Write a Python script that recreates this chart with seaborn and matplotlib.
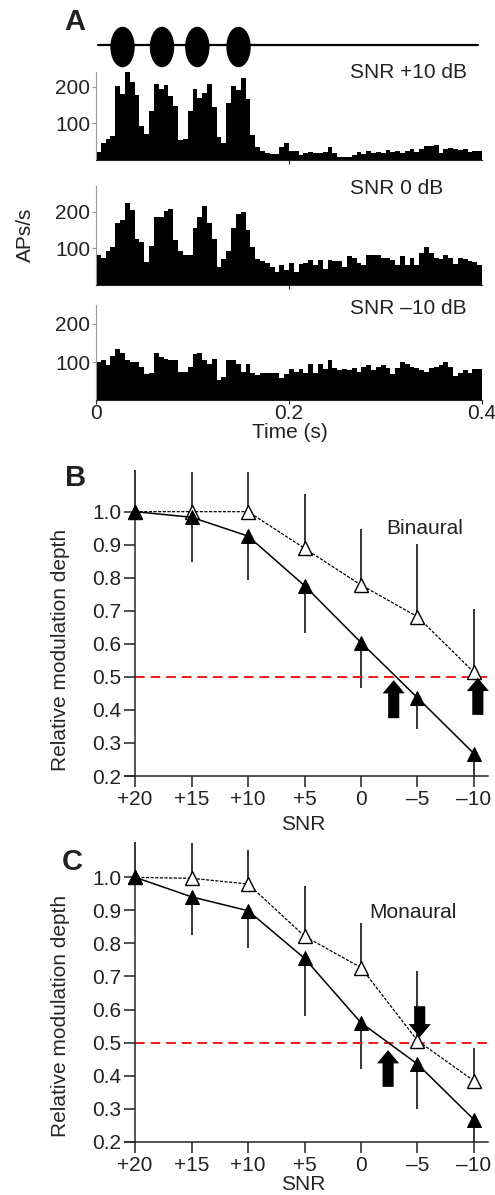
import numpy as np
import pandas as pd
import matplotlib
matplotlib.use('Agg')
import matplotlib.pyplot as plt
from matplotlib.patches import Ellipse
import seaborn as sns

# --- panel A: PSTHs, 5 ms bins from 0 to 0.4 s ---
bin_width = 0.005
rate_p10 = [23, 47, 58, 65, 204, 180, 242, 214, 177, 93, 72, 134, 208, 195, 206, 174, 148, 54, 58, 134,
            194, 171, 183, 208, 146, 63, 47, 155, 204, 193, 225, 168, 68, 35, 26, 19, 17, 17, 35, 47,
            25, 25, 13, 20, 22, 19, 20, 22, 35, 19, 9, 9, 9, 13, 22, 16, 25, 19, 22, 19,
            28, 22, 25, 19, 25, 30, 22, 30, 37, 39, 41, 19, 31, 34, 29, 28, 30, 22, 25, 25]
rate_0 = [82, 73, 94, 105, 168, 177, 223, 205, 125, 118, 64, 107, 185, 186, 203, 207, 123, 94, 82, 82,
          156, 186, 215, 168, 125, 50, 70, 94, 156, 195, 198, 150, 103, 70, 65, 61, 50, 36, 55, 41,
          59, 36, 57, 61, 68, 55, 68, 45, 68, 66, 66, 48, 79, 75, 61, 55, 82, 82, 82, 75,
          75, 68, 55, 79, 55, 73, 55, 88, 105, 86, 73, 70, 82, 73, 57, 73, 70, 66, 62, 55]
rate_m10 = [100, 105, 91, 116, 134, 125, 105, 100, 100, 86, 68, 71, 125, 114, 109, 105, 105, 75, 75, 86,
            121, 125, 105, 95, 109, 52, 61, 106, 106, 95, 75, 95, 71, 66, 71, 71, 71, 71, 59, 68,
            82, 75, 82, 71, 94, 71, 95, 82, 105, 85, 79, 82, 79, 85, 75, 86, 91, 79, 88, 91,
            85, 68, 85, 100, 95, 88, 85, 79, 75, 85, 88, 91, 100, 88, 64, 70, 79, 70, 82, 82]
psth_labels = ['SNR +10 dB', 'SNR 0 dB', 'SNR \u201310 dB']
burst_centers = [0.0275, 0.0684, 0.105, 0.1477]
burst_width = 0.0238

# --- panels B and C: relative modulation depth ---
snr = [20, 15, 10, 5, 0, -5, -10]
snr_labels = ['+20', '+15', '+10', '+5', '0', '\u20135', '\u201310']
bin_open = [1.0, 1.0, 1.0, 0.889, 0.778, 0.682, 0.514]
bin_open_err = [0.126, 0.121, 0.121, 0.163, 0.169, 0.219, 0.191]
bin_filled = [1.0, 0.983, 0.926, 0.776, 0.604, 0.437, 0.268]
bin_filled_err = [0.0, 0.134, 0.133, 0.142, 0.139, 0.094, 0.07]
mon_open = [1.0, 0.997, 0.98, 0.822, 0.727, 0.506, 0.384]
mon_open_err = [0.108, 0.106, 0.103, 0.152, 0.134, 0.211, 0.1]
mon_filled = [1.0, 0.941, 0.899, 0.755, 0.56, 0.435, 0.267]
mon_filled_err = [0.0, 0.116, 0.112, 0.175, 0.141, 0.135, 0.067]
# arrows: (snr position, tail, head)
bin_arrows = [(-2.9, 0.375, 0.49), (-10.35, 0.385, 0.497)]
mon_arrows = [(-5.2, 0.61, 0.516), (-2.4, 0.366, 0.477)]

sns.set_style('ticks')
plt.rcParams['font.family'] = ['Liberation Sans', 'DejaVu Sans']
plt.rcParams['text.color'] = '#222222'
plt.rcParams['xtick.color'] = '#222222'
plt.rcParams['ytick.color'] = '#222222'

W, H = 495, 1195
fig = plt.figure(figsize=(W / 100, H / 100), dpi=100)


def px_axes(left, top, right, bottom):
    a = fig.add_axes([left / W, 1 - bottom / H, (right - left) / W, (bottom - top) / H])
    a.patch.set_alpha(0)
    return a


# stimulus row
ax_s = px_axes(96, 26, 482, 68)
ax_s.plot([0.002, 0.396], [0.1, 0.1], color='black', lw=1.6)
for c in burst_centers:
    ax_s.add_patch(Ellipse((c, 0), burst_width, 1.86, color='black'))
ax_s.set_xlim(0, 0.4)
ax_s.set_ylim(-1, 1)
ax_s.axis('off')

n_bins = len(rate_p10)
centers = (np.arange(n_bins) + 0.5) * bin_width
psth_boxes = [(72, 160, 241), (186, 285, 270), (305, 400, 250)]
psth_text_y = [72, 188, 309]
for i, (rates, (top, bottom, ymax)) in enumerate(zip([rate_p10, rate_0, rate_m10], psth_boxes)):
    ax = px_axes(96, top, 482, bottom)
    df = pd.DataFrame({'t': centers, 'rate': rates})
    sns.histplot(data=df, x='t', weights='rate', bins=n_bins, binrange=(0, n_bins * bin_width),
                 element='step', fill=True, color='black', alpha=1, linewidth=0, ax=ax)
    ax.set_xlim(0, 0.4)
    ax.set_ylim(0, ymax)
    ax.set_yticks([100, 200])
    ax.set_ylabel('')
    ax.set_xlabel('')
    sns.despine(ax=ax)
    ax.spines['left'].set_color('#999999')
    ax.spines['left'].set_linewidth(0.8)
    ax.spines['bottom'].set_linewidth(0.8)
    ax.tick_params(axis='y', length=3, width=0.8, color='#999999', labelsize=15, pad=1)
    if i < 2:
        ax.set_xticks([0.2])
        ax.set_xticklabels([])
        ax.tick_params(axis='x', length=3, width=0.8)
    else:
        ax.set_xticks([0, 0.2, 0.4])
        ax.set_xticklabels(['0', '0.2', '0.4'])
        ax.tick_params(axis='x', length=3, width=0.8, labelsize=15, pad=0)
    fig.text(350 / W, 1 - psth_text_y[i] / H, psth_labels[i], fontsize=15, va='center', ha='left')

fig.text(290 / W, 1 - 432 / H, 'Time (s)', fontsize=15, ha='center', va='center')
fig.text(25 / W, 1 - 235 / H, 'APs/s', fontsize=15, ha='center', va='center', rotation=90)
fig.text(75 / W, 1 - 22 / H, 'A', fontsize=21, fontweight='bold', ha='center', va='center')


def depth_panel(ax, open_v, open_e, filled_v, filled_e, arrows, name, name_xy):
    open_v = np.array(open_v)
    filled_v = np.array(filled_v)
    ax.vlines(snr, open_v, open_v + np.array(open_e), color='black', lw=1.1, zorder=1)
    ax.vlines(snr, filled_v - np.array(filled_e), filled_v, color='black', lw=1.1, zorder=1)
    ax.axhline(0.5, xmin=0.028, xmax=1.0, color='#ee1c1c', lw=1.4, dashes=(5, 3), zorder=1)
    df = pd.DataFrame({'snr': snr, 'open': open_v, 'filled': filled_v})
    sns.lineplot(data=df, x='snr', y='open', color='black', lw=0.9, marker='^', markersize=9.5,
                 markerfacecolor='white', markeredgecolor='black', markeredgewidth=1.0, ax=ax, zorder=3)
    ax.lines[-1].set_dashes([2.5, 1.2])
    sns.lineplot(data=df, x='snr', y='filled', color='black', lw=1.1, marker='^', markersize=9.5,
                 markerfacecolor='black', markeredgecolor='black', ax=ax, zorder=4)
    for x, y0, y1 in arrows:
        ax.annotate('', xy=(x, y1), xytext=(x, y0),
                    arrowprops=dict(arrowstyle='simple,head_length=0.95,head_width=1.6,tail_width=0.8',
                                    color='black', shrinkA=0, shrinkB=0, lw=0))
    ax.set_xlim(20.9, -11.25)
    ax.set_ylim(0.2, 1.13)
    ax.set_xticks(snr)
    ax.set_xticklabels(snr_labels)
    ax.set_yticks([0.2, 0.3, 0.4, 0.5, 0.6, 0.7, 0.8, 0.9, 1.0])
    ax.set_yticklabels(['%.1f' % v for v in [0.2, 0.3, 0.4, 0.5, 0.6, 0.7, 0.8, 0.9, 1.0]])
    sns.despine(ax=ax)
    ax.spines['left'].set_position(('data', 20))
    ax.spines['left'].set_bounds(0.2, 1.0)
    ax.spines['left'].set_linewidth(1.1)
    ax.spines['bottom'].set_linewidth(1.1)
    ax.tick_params(axis='both', length=8, width=1.1, labelsize=15)
    ax.tick_params(axis='y', pad=2)
    ax.tick_params(axis='x', pad=2)
    ax.set_ylabel('Relative modulation depth', fontsize=15)
    ax.set_xlabel('SNR', fontsize=15)
    ax.yaxis.set_label_coords(-0.152, 0.41)
    ax.text(name_xy[0], name_xy[1], name, fontsize=15, ha='center', va='center', transform=ax.transAxes)


ax_b = px_axes(125, 468.7, 488, 776)
depth_panel(ax_b, bin_open, bin_open_err, bin_filled, bin_filled_err, bin_arrows, 'Binaural',
            ((425 - 125) / 363, (776 - 529) / 307.3))
ax_b.xaxis.set_label_coords(0.49, -0.127)
fig.text(76 / W, 1 - 478 / H, 'B', fontsize=21, fontweight='bold', ha='center', va='center')

ax_c = px_axes(125, 834.4, 488, 1141.7)
depth_panel(ax_c, mon_open, mon_open_err, mon_filled, mon_filled_err, mon_arrows, 'Monaural',
            ((413 - 125) / 363, (1141.7 - 913) / 307.3))
ax_c.xaxis.set_label_coords(0.49, -0.108)
fig.text(72 / W, 1 - 862 / H, 'C', fontsize=21, fontweight='bold', ha='center', va='center')

fig.savefig('out.png', dpi=100)
